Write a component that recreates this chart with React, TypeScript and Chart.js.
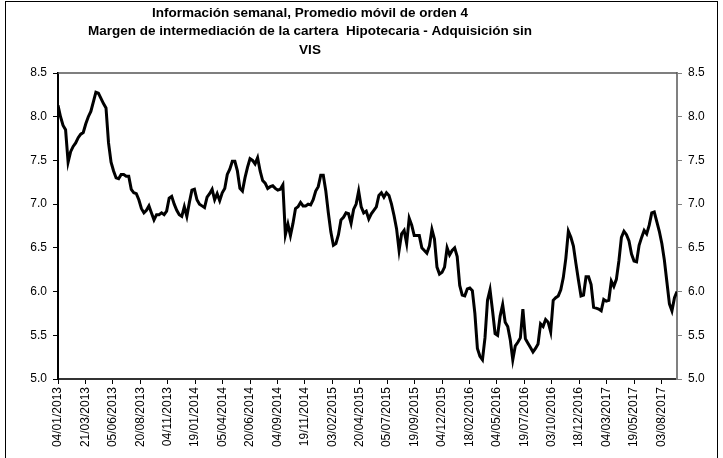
import React, { useEffect, useRef } from "react";
import { Chart, registerables } from "chart.js";

Chart.register(...registerables);

const titleLines = [
  "Información semanal, Promedio móvil de orden 4",
  "Margen de intermediación de la cartera  Hipotecaria - Adquisición sin",
  "VIS",
];

const startDate = "04/01/2013";

const tickLabels = [
  "04/01/2013", "21/03/2013", "05/06/2013", "20/08/2013", "04/11/2013",
  "19/01/2014", "05/04/2014", "20/06/2014", "04/09/2014", "19/11/2014",
  "03/02/2015", "20/04/2015", "05/07/2015", "19/09/2015", "04/12/2015",
  "18/02/2016", "04/05/2016", "19/07/2016", "03/10/2016", "18/12/2016",
  "04/03/2017", "19/05/2017", "03/08/2017",
];

const yTicks = [5.0, 5.5, 6.0, 6.5, 7.0, 7.5, 8.0, 8.5];

// weekly values (moving average of order 4)
const values = [
  8.13, 8.00, 7.90, 7.85, 7.48, 7.60, 7.66, 7.70, 7.76, 7.80,
  7.82, 7.92, 8.00, 8.06, 8.17, 8.28, 8.27, 8.21, 8.15, 8.10,
  7.70, 7.48, 7.38, 7.30, 7.29, 7.34, 7.34, 7.32, 7.32, 7.17,
  7.13, 7.12, 7.05, 6.95, 6.90, 6.93, 6.98, 6.90, 6.82, 6.88,
  6.88, 6.90, 6.88, 6.92, 7.07, 7.09, 7.00, 6.93, 6.88, 6.86,
  6.97, 6.86, 7.02, 7.16, 7.17, 7.05, 7.00, 6.98, 6.96, 7.08,
  7.12, 7.17, 7.05, 7.12, 7.04, 7.13, 7.18, 7.34, 7.40, 7.49,
  7.49, 7.38, 7.18, 7.15, 7.30, 7.42, 7.52, 7.50, 7.46, 7.53,
  7.38, 7.27, 7.24, 7.18, 7.20, 7.21, 7.18, 7.16, 7.17, 7.22,
  6.65, 6.77, 6.64, 6.78, 6.95, 6.97, 7.02, 6.98, 6.98, 7.00,
  6.99, 7.05, 7.15, 7.20, 7.33, 7.33, 7.15, 6.90, 6.68, 6.53,
  6.55, 6.65, 6.82, 6.85, 6.90, 6.89, 6.78, 6.94, 7.00, 7.15,
  6.97, 6.90, 6.92, 6.83, 6.89, 6.93, 6.97, 7.10, 7.13, 7.08,
  7.13, 7.10, 7.00, 6.87, 6.72, 6.47, 6.66, 6.70, 6.55, 6.84,
  6.76, 6.64, 6.64, 6.64, 6.50, 6.47, 6.44, 6.52, 6.71, 6.60,
  6.28, 6.20, 6.22, 6.28, 6.50, 6.42, 6.47, 6.50, 6.40, 6.07,
  5.96, 5.95, 6.03, 6.04, 6.01, 5.75, 5.35, 5.26, 5.22, 5.47,
  5.90, 6.02, 5.78, 5.52, 5.50, 5.72, 5.85, 5.65, 5.60, 5.45,
  5.22, 5.38, 5.42, 5.47, 5.80, 5.46, 5.41, 5.36, 5.31, 5.35,
  5.40, 5.63, 5.60, 5.68, 5.65, 5.54, 5.90, 5.93, 5.95, 6.02,
  6.16, 6.38, 6.69, 6.62, 6.52, 6.32, 6.13, 5.95, 5.96, 6.17,
  6.17, 6.08, 5.82, 5.81, 5.80, 5.78, 5.91, 5.89, 5.90, 6.12,
  6.06, 6.14, 6.35, 6.62, 6.69, 6.65, 6.58, 6.43, 6.35, 6.34,
  6.53, 6.62, 6.70, 6.66, 6.76, 6.90, 6.91, 6.80, 6.69, 6.55,
  6.36, 6.11, 5.86, 5.78, 5.93, 6.00,
];

const dayNumber = (s: string) => {
  const [d, m, y] = s.split("/").map(Number);
  return Date.UTC(y, m - 1, d) / 86400000;
};

const FONT = '"Liberation Sans", Arial, sans-serif';

export default function App() {
  const ref = useRef<HTMLCanvasElement>(null);

  useEffect(() => {
    if (!ref.current) return;
    const start = dayNumber(startDate);
    const tickDays = tickLabels.map((l) => dayNumber(l) - start);
    const points = values.map((v, i) => ({ x: i * 7, y: v }));
    const lastX = (values.length - 1) * 7;

    const frame = {
      id: "frame",
      beforeDatasetsDraw(chart: any) {
        const { ctx, chartArea } = chart;
        ctx.save();
        ctx.strokeStyle = "#555";
        ctx.lineWidth = 1.5;
        ctx.beginPath();
        ctx.moveTo(chartArea.left, chartArea.top);
        ctx.lineTo(chartArea.right, chartArea.top);
        ctx.stroke();
        ctx.restore();
      },
      afterDraw(chart: any) {
        const { ctx } = chart;
        ctx.save();
        ctx.fillStyle = "#000";
        ctx.font = `bold 13.5px ${FONT}`;
        ctx.textAlign = "center";
        ctx.textBaseline = "middle";
        const ys = [13, 31, 50];
        titleLines.forEach((t, i) => ctx.fillText(t, 310, ys[i]));
        ctx.restore();
      },
    };

    const tickFont = { family: FONT, size: 12 };

    const chart = new Chart(ref.current, {
      type: "line",
      data: {
        datasets: [
          {
            data: points,
            borderColor: "#000",
            borderWidth: 3,
            pointRadius: 0,
            tension: 0,
            yAxisID: "y",
          },
        ],
      },
      options: {
        animation: false,
        responsive: false,
        devicePixelRatio: 1,
        layout: { padding: { top: 73, left: 0, right: 0, bottom: 0 } },
        plugins: { legend: { display: false }, tooltip: { enabled: false }, title: { display: false } },
        scales: {
          x: {
            type: "linear",
            position: "bottom",
            min: 0,
            max: lastX,
            afterBuildTicks: (s: any) => {
              s.ticks = tickDays.map((v) => ({ value: v }));
            },
            afterFit: (s: any) => {
              s.height = 79;
            },
            ticks: {
              autoSkip: false,
              maxRotation: 90,
              minRotation: 90,
              padding: 3,
              color: "#000",
              font: tickFont,
              callback: (_v: any, i: number) => tickLabels[i],
            },
            grid: { drawOnChartArea: false, drawTicks: true, tickLength: 5, tickColor: "#000" },
            border: { color: "#333", width: 2 },
          },
          y: {
            position: "left",
            min: 5,
            max: 8.5,
            afterBuildTicks: (s: any) => {
              s.ticks = yTicks.map((v) => ({ value: v }));
            },
            afterFit: (s: any) => {
              s.width = 58;
            },
            ticks: {
              padding: 6,
              color: "#000",
              font: tickFont,
              callback: (v: any) => Number(v).toFixed(1),
            },
            grid: { drawOnChartArea: false, drawTicks: true, tickLength: 5, tickColor: "#000" },
            border: { color: "#000", width: 2 },
          },
          y2: {
            position: "right",
            min: 5,
            max: 8.5,
            afterBuildTicks: (s: any) => {
              s.ticks = yTicks.map((v) => ({ value: v }));
            },
            afterFit: (s: any) => {
              s.width = 46;
            },
            ticks: {
              padding: 6,
              color: "#000",
              font: tickFont,
              callback: (v: any) => Number(v).toFixed(1),
            },
            grid: { drawOnChartArea: false, drawTicks: true, tickLength: 5, tickColor: "#808080" },
            border: { color: "#808080", width: 2 },
          },
        },
      } as any,
      plugins: [frame],
    });
    return () => chart.destroy();
  }, []);

  return (
    <div style={{ position: "fixed", left: 0, top: 0, width: 723, height: 458, background: "#fff" }}>
      <canvas ref={ref} width={723} height={458} style={{ position: "absolute", left: 0, top: 0 }} />
      <div
        style={{
          position: "absolute",
          left: 5,
          top: 1,
          width: 711,
          height: 470,
          border: "1px solid #000",
          pointerEvents: "none",
        }}
      />
    </div>
  );
}
